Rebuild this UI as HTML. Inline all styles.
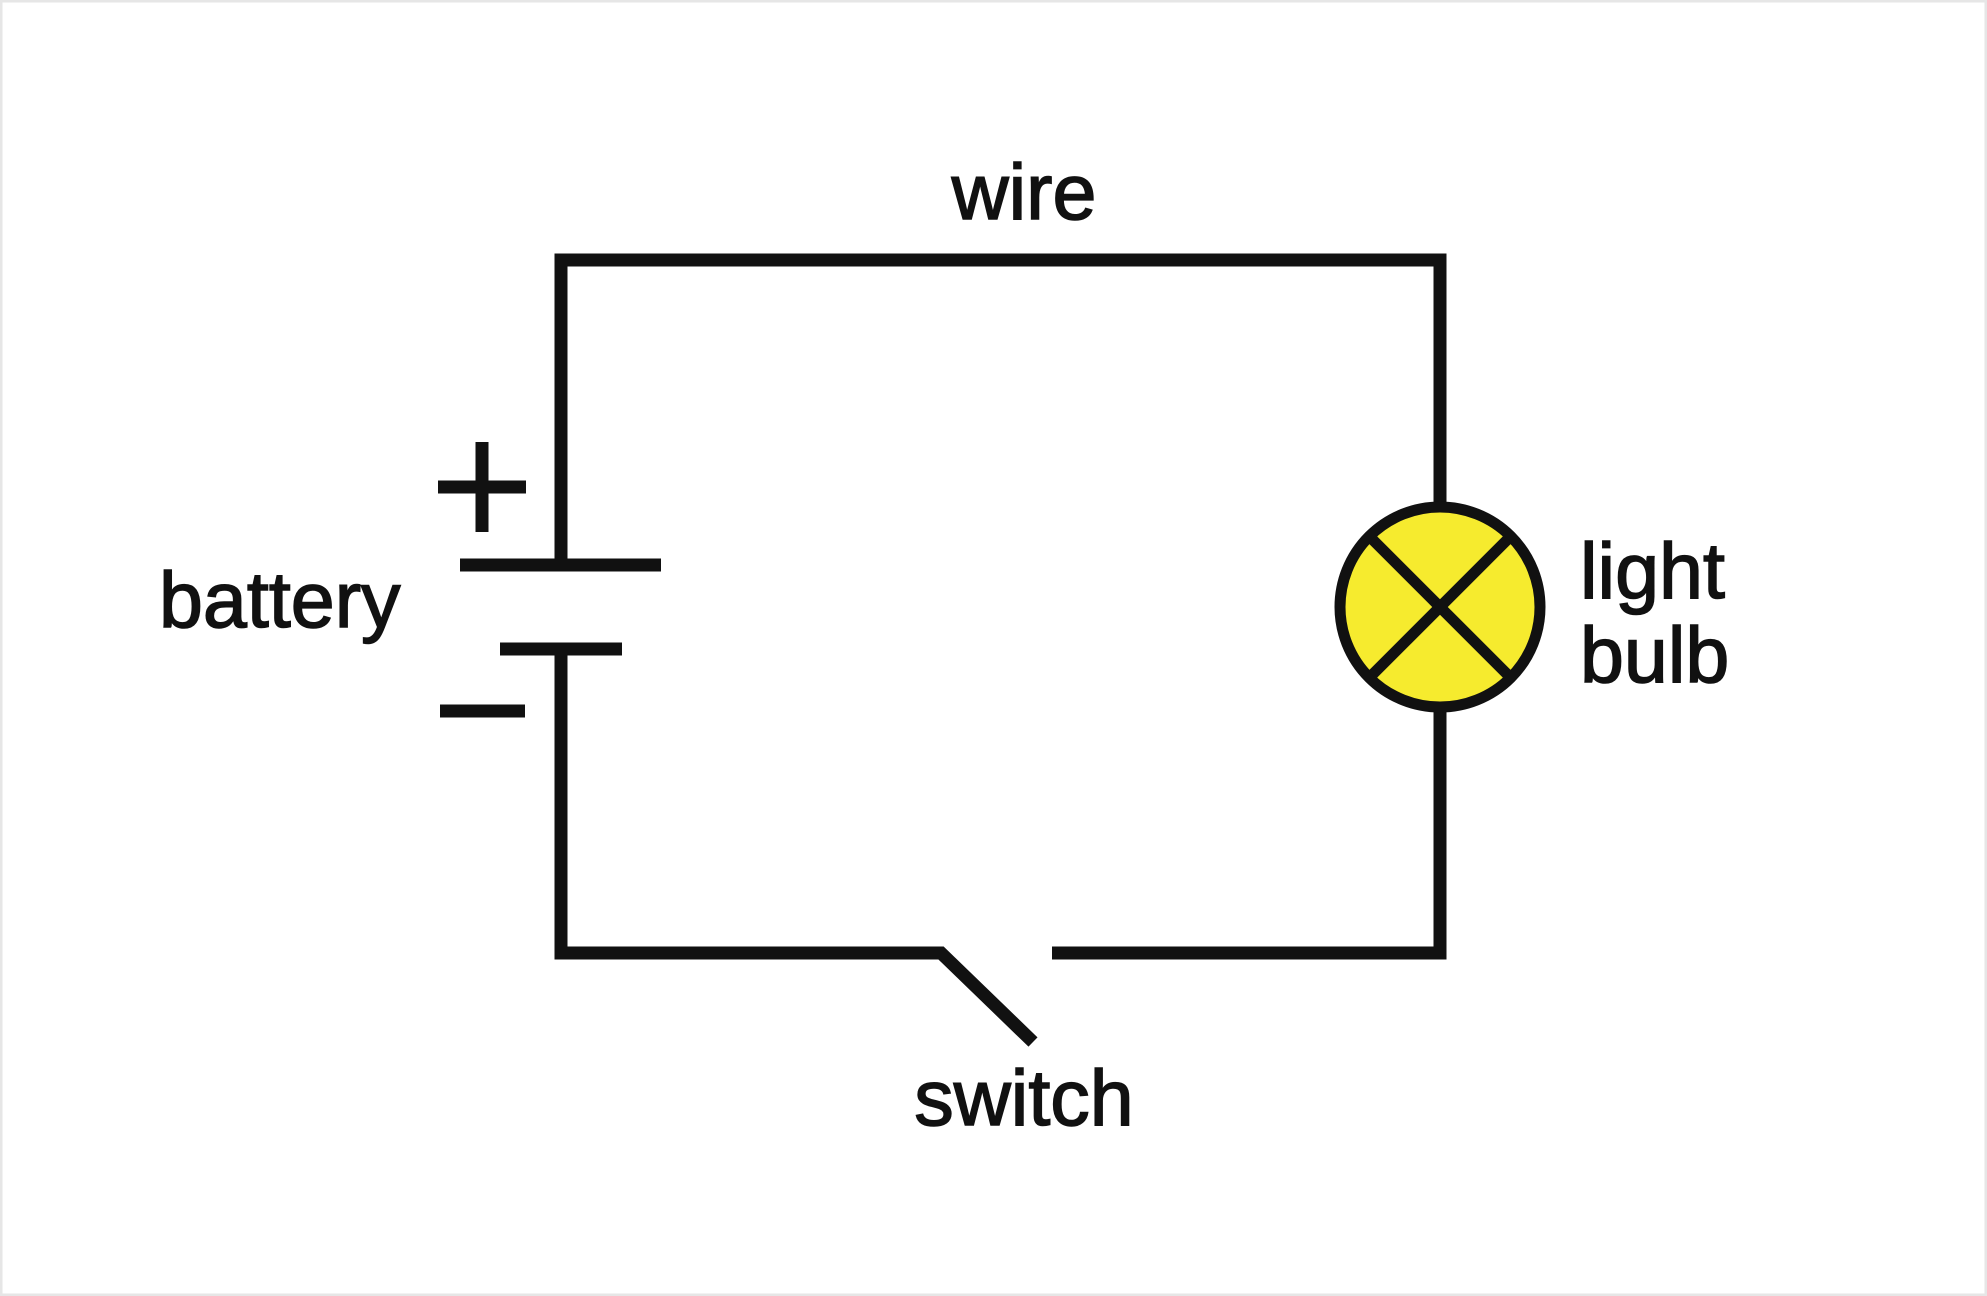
<!DOCTYPE html>
<html><head><style>
html,body{margin:0;padding:0;background:#fff;}
svg{display:block;}
text{font-family:"Liberation Sans",sans-serif;font-size:79px;fill:#111;stroke:#111;stroke-width:1.5px;}
</style></head><body>
<svg width="1987" height="1296" viewBox="0 0 1987 1296" xmlns="http://www.w3.org/2000/svg">
<rect x="1" y="1" width="1985" height="1294" fill="#fff" stroke="#e6e6e6" stroke-width="3"/>
<g stroke="#111" stroke-width="13" fill="none" stroke-linecap="butt">
<polyline points="561,565 561,260 1440,260 1440,506"/>
<polyline points="561,649 561,953 941,953 1033,1042"/>
<polyline points="1052,953 1440,953 1440,708"/>
<line x1="460" y1="565" x2="661" y2="565"/>
<line x1="500" y1="649" x2="622" y2="649"/>
<line x1="438" y1="487" x2="526" y2="487"/>
<line x1="482" y1="442" x2="482" y2="532"/>
<line x1="440" y1="711" x2="525" y2="711"/>
</g>
<circle cx="1440" cy="607" r="100" fill="#f6eb2e" stroke="#111" stroke-width="11"/>
<g stroke="#111" stroke-width="11">
<line x1="1372" y1="539" x2="1508" y2="675"/>
<line x1="1508" y1="539" x2="1372" y2="675"/>
</g>
<text x="1024" y="219" text-anchor="middle">wire</text>
<text x="159" y="627">battery</text>
<text x="1580" y="598">light</text>
<text x="1580" y="682">bulb</text>
<text x="1024" y="1125" text-anchor="middle">switch</text>
</svg>
</body></html>
